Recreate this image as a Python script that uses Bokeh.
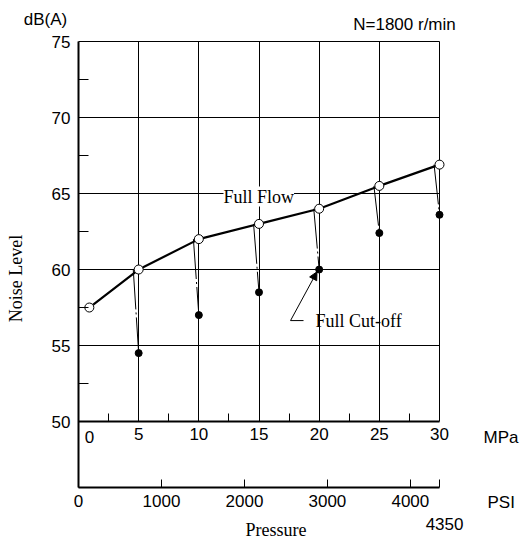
from bokeh.plotting import figure
from bokeh.models import (Range1d, LinearAxis, FixedTicker, Label, Arrow,
                          NormalHead, Grid)
from bokeh.embed import file_html
from bokeh.resources import INLINE

# ---------------- data ----------------
flow_mpa = [0.9, 5, 10, 15, 20, 25, 30]
flow_db = [57.5, 60.0, 62.0, 63.0, 64.0, 65.5, 66.9]
cutoff_mpa = [5, 10, 15, 20, 25, 30]
cutoff_db = [54.5, 57.0, 58.5, 60.0, 62.4, 63.6]

mpa_ticks = [0, 5, 10, 15, 20, 25, 30]
mpa_minor = [2.5, 7.5, 12.5, 17.5, 22.5, 27.5]
db_ticks = [50, 55, 60, 65, 70, 75]
db_minor = [52.5, 57.5, 62.5, 67.5, 72.5]
db_grid = [55, 60, 65, 70, 75]
mpa_grid = [5, 10, 15, 20, 25, 30]
psi_ticks = [0, 1000, 2000, 3000, 4000, 4350]
PSI_PER_MPA = 145.038

MPA_MAX = 30
DB_MIN, DB_MAX = 50, 75
DB_AXIS_BOTTOM = 45.66   # where the PSI scale line sits

SANS = "Liberation Sans"
SERIF = "Liberation Serif"
FS = "17px"
FS_SERIF = "18px"

# layout: the grid occupies 361 x 446 px inside a 528 x 542 canvas
W, H = 528, 542
LEFT, RIGHT, TOP, BOTTOM = 78, 89, 41, 55
ppx = (W - LEFT - RIGHT) / MPA_MAX
ppy = (H - TOP - BOTTOM) / (DB_MAX - DB_AXIS_BOTTOM)
x0, x1 = -LEFT / ppx, MPA_MAX + RIGHT / ppx
y0, y1 = DB_AXIS_BOTTOM - BOTTOM / ppy, DB_MAX + TOP / ppy

p = figure(frame_width=W, frame_height=H,
           x_range=Range1d(x0, x1), y_range=Range1d(y0, y1),
           x_axis_type=None, y_axis_type=None,
           output_backend="svg", toolbar_location=None,
           min_border=0)
p.outline_line_color = None
p.background_fill_color = "white"
p.border_fill_color = "white"
p.extra_x_ranges = {"psi": Range1d(x0 * PSI_PER_MPA, x1 * PSI_PER_MPA)}

# left axis (dB)
yax = LinearAxis(fixed_location=0, bounds=(DB_AXIS_BOTTOM, DB_MAX),
                 ticker=FixedTicker(ticks=db_ticks, minor_ticks=db_minor),
                 major_tick_in=0, major_tick_out=0,
                 minor_tick_in=10, minor_tick_out=0,
                 axis_line_width=2, axis_line_color="black",
                 minor_tick_line_color="black",
                 major_label_standoff=8,
                 major_label_text_font=SANS, major_label_text_font_size=FS,
                 major_label_text_color="black")
p.add_layout(yax, "left")

# PSI axis
psi_ax = LinearAxis(x_range_name="psi", fixed_location=DB_AXIS_BOTTOM,
                    bounds=(0, MPA_MAX * PSI_PER_MPA),
                    ticker=FixedTicker(ticks=psi_ticks),
                    major_label_overrides={4350: ""},
                    major_tick_in=8, major_tick_out=0,
                    minor_tick_in=0, minor_tick_out=0,
                    axis_line_width=2, axis_line_color="black",
                    major_tick_line_color="black",
                    major_label_standoff=7,
                    major_label_text_font=SANS, major_label_text_font_size=FS,
                    major_label_text_color="black")
p.add_layout(psi_ax, "below")

# MPa axis fixed at 50 dB
mpa_ax = LinearAxis(fixed_location=DB_MIN, bounds=(0, MPA_MAX),
                    ticker=FixedTicker(ticks=mpa_ticks, minor_ticks=mpa_minor),
                    major_label_overrides={0: ""},
                    major_tick_in=0, major_tick_out=0,
                    minor_tick_in=8, minor_tick_out=0,
                    axis_line_width=2, axis_line_color="black",
                    minor_tick_line_color="black",
                    major_label_standoff=6,
                    major_label_text_font=SANS, major_label_text_font_size=FS,
                    major_label_text_color="black")
p.add_layout(mpa_ax, "below")

# grids
yg = Grid(dimension=1, ticker=FixedTicker(ticks=db_grid), cross_bounds=(0, MPA_MAX),
          grid_line_color="black", grid_line_width=1)
xg = Grid(dimension=0, ticker=FixedTicker(ticks=mpa_grid), cross_bounds=(DB_MIN, DB_MAX),
          grid_line_color="black", grid_line_width=1)
p.add_layout(yg)
p.add_layout(xg)

# dash-dot drops from full flow to full cut-off
p.segment(x0=[x - 0.45 for x in cutoff_mpa], y0=flow_db[1:],
          x1=cutoff_mpa, y1=cutoff_db,
          line_color="black", line_width=1, line_dash="40 3 2 3")

# full flow curve
p.line(flow_mpa, flow_db, line_color="black", line_width=2.2)
p.scatter(flow_mpa, flow_db, size=9, fill_color="white",
          line_color="black", line_width=1)
# full cut-off points
p.scatter(cutoff_mpa, cutoff_db, size=7, fill_color="black", line_color="black")

# annotations
p.add_layout(Label(x=12.05, y=64.8, text="Full Flow", text_baseline="middle",
                   text_align="left", text_font=SERIF, text_font_size=FS_SERIF,
                   background_fill_color="white", text_color="black"))
p.add_layout(Label(x=19.7, y=56.64, text="Full Cut-off", text_baseline="middle",
                   text_align="left", text_font=SERIF, text_font_size=FS_SERIF,
                   text_color="black"))
p.add_layout(Arrow(end=NormalHead(size=8, fill_color="black", line_color="black"),
                   x_start=17.62, y_start=56.64, x_end=19.82, y_end=59.85,
                   line_color="black", line_width=1))
p.add_layout(Arrow(end=None, x_start=17.62, y_start=56.64, x_end=18.7, y_end=56.64,
                   line_color="black", line_width=1))

def lab(x, y, text, align="center", font=SANS, size=FS, angle=0.0):
    p.add_layout(Label(x=x, y=y, text=text, text_align=align,
                       text_baseline="middle", text_font=font,
                       text_font_size=size, angle=angle, text_color="black"))

lab(-2.74, 76.45, "dB(A)")
lab(27.09, 76.12, "N=1800 r/min")
lab(-5.19, 59.41, "Noise Level", font=SERIF, size=FS_SERIF, angle=1.5708)
lab(0.91, 49.01, "0")
lab(33.66, 48.95, "MPa", align="left")
lab(33.99, 44.67, "PSI", align="left")
lab(30.42, 43.29, "4350")
lab(16.41, 42.86, "Pressure", font=SERIF, size=FS_SERIF)

open("out.html", "w").write(file_html(p, INLINE))
